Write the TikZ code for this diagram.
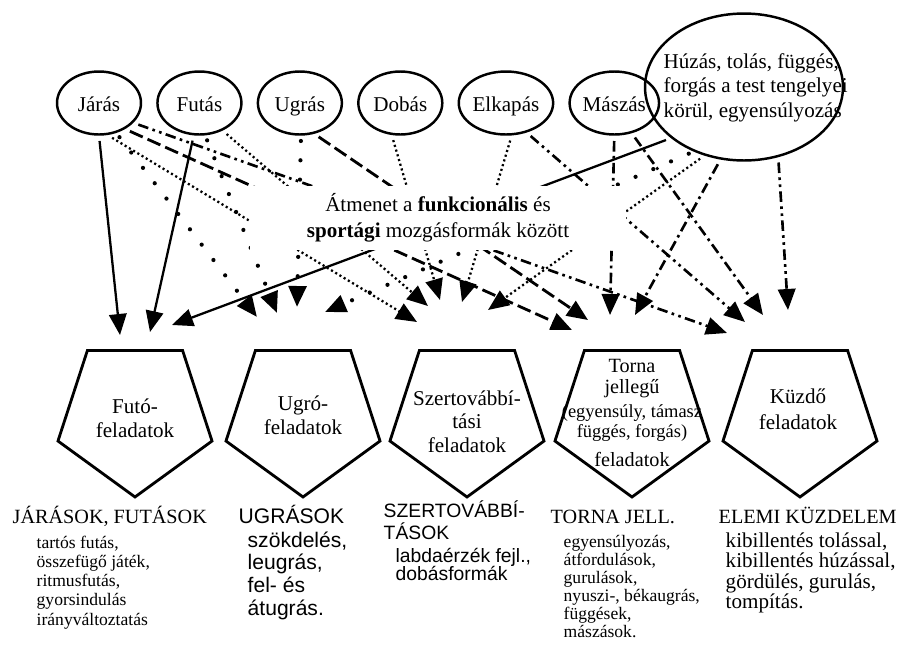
\documentclass[tikz,border=0pt]{standalone}
\usepackage{fontspec}
\setmainfont{Liberation Serif}
\newfontfamily\arialfont{Liberation Sans}
\usepackage{tikz}
\usetikzlibrary{shapes,arrows.meta,positioning,calc}

% stacked lines, first baseline is the node base
\newcommand{\linesleft}[1]{\vtop{\halign{##\hfil\cr#1\crcr}}}
\newcommand{\linesmid}[1]{\vtop{\halign{\hfil##\hfil\cr#1\crcr}}}

\begin{document}
\begin{tikzpicture}[
    x=0.02cm, y=-0.02cm,
    node distance=0.28cm,
    thick,
    move node/.style={ellipse,draw,line width=1.4pt,minimum width=1.68cm,minimum height=1.26cm,inner sep=0pt,text height=10pt,text depth=0pt,font=\fontsize{12}{14}\selectfont},
    task node/.style={regular polygon,regular polygon sides=5,shape border rotate=180,draw,line width=1.6pt,minimum size=3.24cm,inner sep=0pt},
    task text/.style={anchor=base,inner sep=0pt,font=\fontsize{12}{14.2}\selectfont},
    head text/.style={anchor=base west,inner sep=0pt,font=\fontsize{11.5}{13}\selectfont},
    list text/.style={anchor=base west,inner sep=0pt,font=\fontsize{10}{11}\selectfont},
    arrow base/.style={-{Triangle[length=4.2mm,width=3.5mm]},shorten <=3pt},
    solid arrow/.style={arrow base,line width=1.3pt},
    dot arrow/.style={arrow base,line width=2.4pt,line cap=round,dash pattern=on 0pt off 11pt},
    dotted arrow/.style={arrow base,line width=1.3pt,dash pattern=on 1.2pt off 1.6pt},
    dash arrow/.style={arrow base,line width=1.6pt,dash pattern=on 8pt off 3pt},
    dashdot arrow/.style={arrow base,line width=1.5pt,dash pattern=on 6pt off 2.5pt on 1.5pt off 2.5pt},
    dashdotdot arrow/.style={arrow base,line width=1.5pt,dash pattern=on 6pt off 2.5pt on 1.5pt off 2.5pt on 1.5pt off 2.5pt}
]
\useasboundingbox (0,0) rectangle (903,650);

% basic movements
\node[move node] (jaras) at (99,103) {Járás};
\node[move node,right=of jaras] (futas) {Futás};
\node[move node,right=of futas] (ugras) {Ugrás};
\node[move node,right=of ugras] (dobas) {Dobás};
\node[move node,right=of dobas] (elkapas) {Elkapás};
\node[move node,right=of elkapas] (maszas) {Mászás};
\node[ellipse,draw,line width=1.4pt,minimum width=3.96cm,minimum height=2.94cm] (huzas) at (744,87) {};
\node[anchor=base west,inner sep=0pt,font=\fontsize{12}{14.2}\selectfont] (huzas text) at (663,68) {\linesleft{Húzás, tolás, függés,\cr forgás a test tengelyei\cr körül, egyensúlyozás}};

% task groups
\node[task node] (futo) at (135,416) {};
\node[task node] (ugro) at (303,416) {};
\node[task node] (szer) at (467,416) {};
\node[task node] (torna) at (632,416) {};
\node[task node] (kuzdo) at (800,416) {};

\node[task text] (futo text) at (135,413) {\linesmid{Futó-\cr feladatok}};
\node[task text] (ugro text) at (303,410) {\linesmid{Ugró-\cr feladatok}};
\node[task text,font=\fontsize{12}{13.6}\selectfont] (szer text) at (467,405) {\linesmid{Szertovábbí-\cr tási\cr feladatok}};
\node[task text,font=\fontsize{11.5}{12}\selectfont] (torna text) at (632,372) {\linesmid{Torna\cr jellegű\cr\noalign{\vskip2pt}{\fontsize{10.5}{12}\selectfont(egyensúly, támasz}\cr\noalign{\vskip-0.7pt}{\fontsize{10.5}{12}\selectfont függés, forgás)}\cr\noalign{\vskip4.4pt}feladatok}};
\node[task text,font=\fontsize{12}{15}\selectfont] (kuzdo text) at (798,403) {\linesmid{Küzdő\cr feladatok}};

% solid
\draw[solid arrow] (jaras.south) -- ([shift={(-15,-81)}]futo.center);
\draw[solid arrow] (futas.-100) -- ([shift={(15,-84)}]futo.center);
\draw[solid arrow] (huzas.215) -- ([shift={(37,-91)}]futo.center);
% big dots
\draw[dot arrow] (jaras.-60) -- ([shift={(-46,-99)}]ugro.center);
\draw[dot arrow] (futas.-80) -- ([shift={(-26,-103)}]ugro.center);
\draw[dot arrow] (ugras.-88) -- ([shift={(-6,-109)}]ugro.center);
\draw[dot arrow] (huzas.232) -- ([shift={(22,-104)}]ugro.center);
% dotted
\draw[dotted arrow] (jaras.-75) -- ([shift={(-50,-94)}]szer.center);
\draw[dotted arrow] (futas.-50) -- ([shift={(-39,-110)}]szer.center);
\draw[dotted arrow] (dobas.-105) -- ([shift={(-27,-116)}]szer.center);
\draw[dotted arrow] (elkapas.-80) -- ([shift={(-5,-114)}]szer.center);
\draw[dotted arrow] (huzas.240) -- ([shift={(21,-106)}]szer.center);
% dashed / dash-dot
\draw[dash arrow] (jaras.-45) -- ([shift={(-60,-86)}]torna.center);
\draw[dash arrow] (ugras.-65) -- ([shift={(-44,-96)}]torna.center);
\draw[dashdot arrow] (maszas.south) -- ([shift={(-22,-101)}]torna.center);
\draw[dashdot arrow] (huzas.252) -- ([shift={(3,-101)}]torna.center);
\draw[dashdotdot arrow] (jaras.-30) -- ([shift={(-73,-83)}]kuzdo.center);
\draw[dashdotdot arrow] (elkapas.-55) -- ([shift={(-55,-94)}]kuzdo.center);
\draw[dashdot arrow] (maszas.-60) -- ([shift={(-37,-101)}]kuzdo.center);
\draw[dashdotdot arrow] (huzas.-64) -- ([shift={(-12,-106)}]kuzdo.center);

% middle label covers the crossing lines
\node[fill=white,inner sep=0pt,minimum width=7.52cm,minimum height=1.28cm,align=center,font=\fontsize{12}{14.7}\selectfont] (transition) at (438,218) {Átmenet a \textbf{funkcionális} és\\\textbf{sportági} mozgásformák között};

% contents below
\node[head text] (run head) at (12,523) {JÁRÁSOK, FUTÁSOK};
\node[list text] (run list) at (36,548) {\linesleft{tartós futás,\cr összefügő játék,\cr ritmusfutás,\cr gyorsindulás\cr irányváltoztatás}};
\node[head text,font=\arialfont\fontsize{12}{13}\selectfont] (jump head) at (238,523) {UGRÁSOK};
\node[list text,font=\arialfont\fontsize{12}{12.9}\selectfont] (jump list) at (247,547) {\linesleft{szökdelés,\cr leugrás,\cr fel- és\cr átugrás.}};
\node[head text,font=\arialfont\fontsize{11}{13}\selectfont] (throw head) at (383,517) {\linesleft{SZERTOVÁBBÍ-\cr TÁSOK}};
\node[list text,font=\arialfont\fontsize{11}{10.6}\selectfont] (throw list) at (395,562) {\linesleft{labdaérzék fejl.,\cr dobásformák}};
\node[head text] (gym head) at (550,523) {TORNA JELL.};
\node[list text,font=\fontsize{10}{10.3}\selectfont] (gym list) at (563,547) {\linesleft{egyensúlyozás,\cr átfordulások,\cr gurulások,\cr nyuszi-, békaugrás,\cr függések,\cr mászások.}};
\node[head text] (fight head) at (718,523) {ELEMI KÜZDELEM};
\node[list text,font=\fontsize{12}{11.7}\selectfont] (fight list) at (725,547) {\linesleft{kibillentés tolással,\cr kibillentés húzással,\cr gördülés, gurulás,\cr tompítás.}};
\end{tikzpicture}
\end{document}
